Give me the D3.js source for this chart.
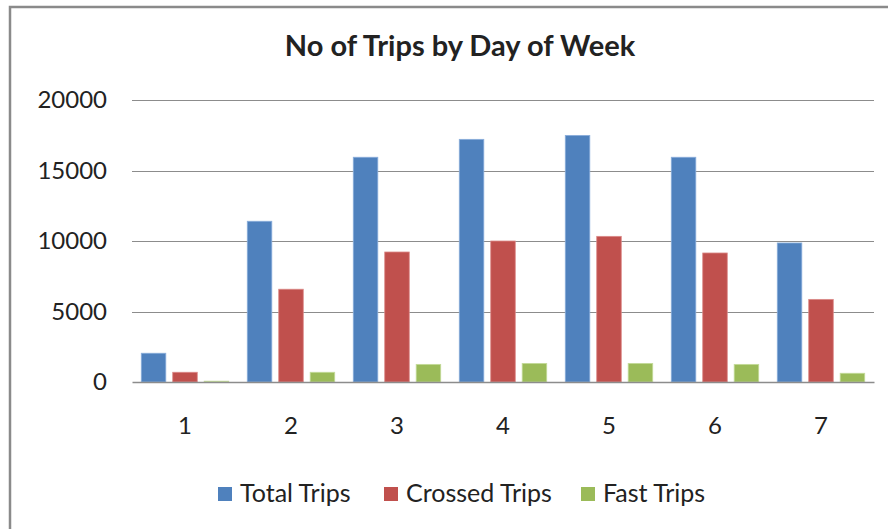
<!DOCTYPE html>
<html>
<head>
<meta charset="utf-8">
<script src="https://cdn.jsdelivr.net/npm/d3@7"></script>
<style>
  body { margin: 0; background: #fff; }
  svg text { font-family: Lato, "Open Sans", sans-serif; fill: #222; }
</style>
</head>
<body>
<svg id="chart" width="888" height="529"></svg>
<script>
let svg = d3.select("#chart"),
    width = 888,
    height = 529;

// Datos
const days = ["1", "2", "3", "4", "5", "6", "7"];
const seriesNames = ["Total Trips", "Crossed Trips", "Fast Trips"];
const totalTrips = [2040, 11400, 15940, 17210, 17490, 15940, 9860];
const crossedTrips = [690, 6580, 9220, 10000, 10330, 9150, 5860];
const fastTrips = [60, 690, 1250, 1320, 1320, 1250, 620];
const yTicks = [0, 5000, 10000, 15000, 20000];
const colors = ["#4F81BD", "#C0504D", "#9BBB59"];
const strokes = ["#8AAEDB", "#DB8A88", "#C4DB9A"];

const seriesValues = [totalTrips, crossedTrips, fastTrips];

let plot = {left: 132, right: 874, top: 100, bottom: 382};

// marco exterior
svg.append("rect")
    .attr("x", 10)
    .attr("y", 7)
    .attr("width", 1000)
    .attr("height", 1000)
    .attr("fill", "none")
    .attr("stroke", "#8a8a8a")
    .attr("stroke-width", 2.5);

// titulo
svg.append("text")
    .attr("x", 460)
    .attr("y", 56)
    .attr("text-anchor", "middle")
    .attr("font-size", "29px")
    .attr("font-weight", "bold")
    .text("No of Trips by Day of Week");

let y = d3.scaleLinear()
    .domain([0, 20000])
    .range([plot.bottom, plot.top]);

let x0 = d3.scaleBand()
    .domain(days)
    .range([plot.left, plot.right])
    .paddingInner(0.175)
    .paddingOuter(0.0875);

let x1 = d3.scaleBand()
    .domain(d3.range(seriesNames.length))
    .range([0, x0.bandwidth()])
    .paddingInner(0.22);

// rejilla horizontal
svg.append("g")
    .selectAll("line")
    .data(yTicks.filter(d => d > 0))
    .enter()
    .append("line")
    .attr("x1", plot.left)
    .attr("x2", plot.right)
    .attr("y1", d => Math.round(y(d)) + 0.5)
    .attr("y2", d => Math.round(y(d)) + 0.5)
    .attr("stroke", "#8c8c8c")
    .attr("stroke-width", 1.2);

// etiquetas del eje y
let yAxis = d3.axisLeft(y).tickValues(yTicks).tickFormat(d3.format("d")).tickSize(0).tickPadding(25);
let gy = svg.append("g")
    .attr("transform", "translate(" + plot.left + ",0)")
    .call(yAxis);
gy.select(".domain").remove();
gy.selectAll("text")
    .attr("font-size", "24px")
    .attr("font-family", "Lato, sans-serif")
    .attr("fill", "#222");

// barras
let groups = svg.append("g")
    .selectAll("g")
    .data(days)
    .enter()
    .append("g")
    .attr("transform", d => "translate(" + x0(d) + ",0)");

groups.selectAll("rect")
    .data((d, i) => seriesValues.map((vals, s) => ({s: s, v: vals[i]})))
    .enter()
    .append("rect")
    .attr("x", d => x1(d.s))
    .attr("y", d => y(d.v))
    .attr("width", x1.bandwidth())
    .attr("height", d => y(0) - y(d.v))
    .attr("fill", d => colors[d.s])
    .attr("stroke", d => strokes[d.s])
    .attr("stroke-width", 0.8);

// eje x
let xAxis = d3.axisBottom(x0).tickSize(0).tickPadding(35);
let gx = svg.append("g")
    .attr("transform", "translate(0," + plot.bottom + ")")
    .call(xAxis);
gx.select(".domain")
    .attr("stroke", "#8c8c8c")
    .attr("stroke-width", 1.5);
gx.selectAll("text")
    .attr("font-size", "24px")
    .attr("font-family", "Lato, sans-serif")
    .attr("fill", "#222");

// leyenda
let legendX = [218, 384, 581];
let legend = svg.append("g")
    .selectAll("g")
    .data(seriesNames)
    .enter()
    .append("g")
    .attr("transform", (d, i) => "translate(" + legendX[i] + ",487)");

legend.append("rect")
    .attr("width", 14)
    .attr("height", 14)
    .attr("fill", (d, i) => colors[i]);

legend.append("text")
    .attr("x", 22)
    .attr("y", 14.5)
    .attr("font-size", "25px")
    .text(d => d);
</script>
</body>
</html>
